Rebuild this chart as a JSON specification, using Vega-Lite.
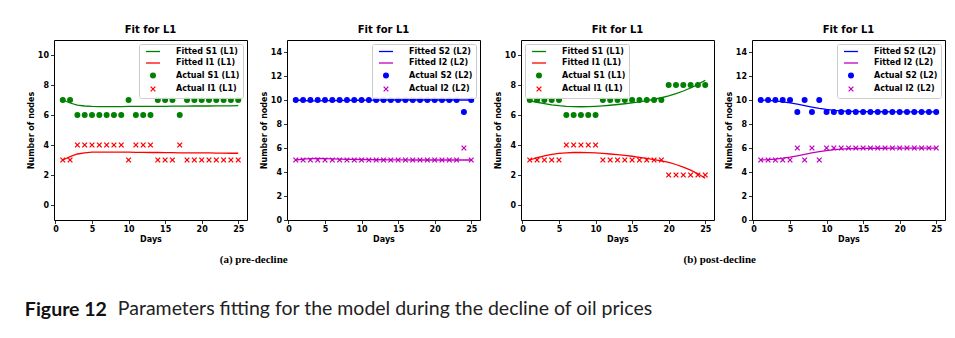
{
  "$schema": "https://vega.github.io/schema/vega-lite/v6.json",
  "padding": {"left": 24, "top": 24, "right": 2, "bottom": 5},
  "background": "white",
  "datasets": {
    "f1": [
      {"d":1,"v":7.0,"s":"Fitted S1 (L1)"},{"d":2,"v":6.8,"s":"Fitted S1 (L1)"},{"d":3,"v":6.66,"s":"Fitted S1 (L1)"},{"d":4,"v":6.6,"s":"Fitted S1 (L1)"},{"d":5,"v":6.57,"s":"Fitted S1 (L1)"},{"d":6,"v":6.56,"s":"Fitted S1 (L1)"},{"d":7,"v":6.56,"s":"Fitted S1 (L1)"},{"d":8,"v":6.56,"s":"Fitted S1 (L1)"},{"d":9,"v":6.56,"s":"Fitted S1 (L1)"},{"d":10,"v":6.57,"s":"Fitted S1 (L1)"},{"d":11,"v":6.57,"s":"Fitted S1 (L1)"},{"d":12,"v":6.57,"s":"Fitted S1 (L1)"},{"d":13,"v":6.58,"s":"Fitted S1 (L1)"},{"d":14,"v":6.58,"s":"Fitted S1 (L1)"},{"d":15,"v":6.58,"s":"Fitted S1 (L1)"},{"d":16,"v":6.59,"s":"Fitted S1 (L1)"},{"d":17,"v":6.59,"s":"Fitted S1 (L1)"},{"d":18,"v":6.59,"s":"Fitted S1 (L1)"},{"d":19,"v":6.6,"s":"Fitted S1 (L1)"},{"d":20,"v":6.6,"s":"Fitted S1 (L1)"},{"d":21,"v":6.6,"s":"Fitted S1 (L1)"},{"d":22,"v":6.61,"s":"Fitted S1 (L1)"},{"d":23,"v":6.61,"s":"Fitted S1 (L1)"},{"d":24,"v":6.61,"s":"Fitted S1 (L1)"},{"d":25,"v":6.62,"s":"Fitted S1 (L1)"},
      {"d":1,"v":3.0,"s":"Fitted I1 (L1)"},{"d":2,"v":3.22,"s":"Fitted I1 (L1)"},{"d":3,"v":3.4,"s":"Fitted I1 (L1)"},{"d":4,"v":3.48,"s":"Fitted I1 (L1)"},{"d":5,"v":3.52,"s":"Fitted I1 (L1)"},{"d":6,"v":3.53,"s":"Fitted I1 (L1)"},{"d":7,"v":3.53,"s":"Fitted I1 (L1)"},{"d":8,"v":3.53,"s":"Fitted I1 (L1)"},{"d":9,"v":3.52,"s":"Fitted I1 (L1)"},{"d":10,"v":3.52,"s":"Fitted I1 (L1)"},{"d":11,"v":3.51,"s":"Fitted I1 (L1)"},{"d":12,"v":3.51,"s":"Fitted I1 (L1)"},{"d":13,"v":3.5,"s":"Fitted I1 (L1)"},{"d":14,"v":3.5,"s":"Fitted I1 (L1)"},{"d":15,"v":3.49,"s":"Fitted I1 (L1)"},{"d":16,"v":3.49,"s":"Fitted I1 (L1)"},{"d":17,"v":3.48,"s":"Fitted I1 (L1)"},{"d":18,"v":3.48,"s":"Fitted I1 (L1)"},{"d":19,"v":3.47,"s":"Fitted I1 (L1)"},{"d":20,"v":3.47,"s":"Fitted I1 (L1)"},{"d":21,"v":3.47,"s":"Fitted I1 (L1)"},{"d":22,"v":3.46,"s":"Fitted I1 (L1)"},{"d":23,"v":3.46,"s":"Fitted I1 (L1)"},{"d":24,"v":3.45,"s":"Fitted I1 (L1)"},{"d":25,"v":3.45,"s":"Fitted I1 (L1)"}
    ],
    "a1": [
      {"d":1,"v":7,"s":"Actual S1 (L1)"},{"d":2,"v":7,"s":"Actual S1 (L1)"},{"d":3,"v":6,"s":"Actual S1 (L1)"},{"d":4,"v":6,"s":"Actual S1 (L1)"},{"d":5,"v":6,"s":"Actual S1 (L1)"},{"d":6,"v":6,"s":"Actual S1 (L1)"},{"d":7,"v":6,"s":"Actual S1 (L1)"},{"d":8,"v":6,"s":"Actual S1 (L1)"},{"d":9,"v":6,"s":"Actual S1 (L1)"},{"d":10,"v":7,"s":"Actual S1 (L1)"},{"d":11,"v":6,"s":"Actual S1 (L1)"},{"d":12,"v":6,"s":"Actual S1 (L1)"},{"d":13,"v":6,"s":"Actual S1 (L1)"},{"d":14,"v":7,"s":"Actual S1 (L1)"},{"d":15,"v":7,"s":"Actual S1 (L1)"},{"d":16,"v":7,"s":"Actual S1 (L1)"},{"d":17,"v":6,"s":"Actual S1 (L1)"},{"d":18,"v":7,"s":"Actual S1 (L1)"},{"d":19,"v":7,"s":"Actual S1 (L1)"},{"d":20,"v":7,"s":"Actual S1 (L1)"},{"d":21,"v":7,"s":"Actual S1 (L1)"},{"d":22,"v":7,"s":"Actual S1 (L1)"},{"d":23,"v":7,"s":"Actual S1 (L1)"},{"d":24,"v":7,"s":"Actual S1 (L1)"},{"d":25,"v":7,"s":"Actual S1 (L1)"},
      {"d":1,"v":3,"s":"Actual I1 (L1)"},{"d":2,"v":3,"s":"Actual I1 (L1)"},{"d":3,"v":4,"s":"Actual I1 (L1)"},{"d":4,"v":4,"s":"Actual I1 (L1)"},{"d":5,"v":4,"s":"Actual I1 (L1)"},{"d":6,"v":4,"s":"Actual I1 (L1)"},{"d":7,"v":4,"s":"Actual I1 (L1)"},{"d":8,"v":4,"s":"Actual I1 (L1)"},{"d":9,"v":4,"s":"Actual I1 (L1)"},{"d":10,"v":3,"s":"Actual I1 (L1)"},{"d":11,"v":4,"s":"Actual I1 (L1)"},{"d":12,"v":4,"s":"Actual I1 (L1)"},{"d":13,"v":4,"s":"Actual I1 (L1)"},{"d":14,"v":3,"s":"Actual I1 (L1)"},{"d":15,"v":3,"s":"Actual I1 (L1)"},{"d":16,"v":3,"s":"Actual I1 (L1)"},{"d":17,"v":4,"s":"Actual I1 (L1)"},{"d":18,"v":3,"s":"Actual I1 (L1)"},{"d":19,"v":3,"s":"Actual I1 (L1)"},{"d":20,"v":3,"s":"Actual I1 (L1)"},{"d":21,"v":3,"s":"Actual I1 (L1)"},{"d":22,"v":3,"s":"Actual I1 (L1)"},{"d":23,"v":3,"s":"Actual I1 (L1)"},{"d":24,"v":3,"s":"Actual I1 (L1)"},{"d":25,"v":3,"s":"Actual I1 (L1)"}
    ],
    "f2": [
      {"d":1,"v":10.0,"s":"Fitted S2 (L2)"},{"d":2,"v":9.96,"s":"Fitted S2 (L2)"},{"d":3,"v":9.93,"s":"Fitted S2 (L2)"},{"d":4,"v":9.93,"s":"Fitted S2 (L2)"},{"d":5,"v":9.94,"s":"Fitted S2 (L2)"},{"d":6,"v":9.95,"s":"Fitted S2 (L2)"},{"d":7,"v":9.96,"s":"Fitted S2 (L2)"},{"d":8,"v":9.97,"s":"Fitted S2 (L2)"},{"d":9,"v":9.98,"s":"Fitted S2 (L2)"},{"d":10,"v":9.98,"s":"Fitted S2 (L2)"},{"d":11,"v":9.99,"s":"Fitted S2 (L2)"},{"d":12,"v":9.99,"s":"Fitted S2 (L2)"},{"d":13,"v":9.99,"s":"Fitted S2 (L2)"},{"d":14,"v":10,"s":"Fitted S2 (L2)"},{"d":15,"v":10,"s":"Fitted S2 (L2)"},{"d":16,"v":10,"s":"Fitted S2 (L2)"},{"d":17,"v":10,"s":"Fitted S2 (L2)"},{"d":18,"v":10,"s":"Fitted S2 (L2)"},{"d":19,"v":10,"s":"Fitted S2 (L2)"},{"d":20,"v":10,"s":"Fitted S2 (L2)"},{"d":21,"v":10,"s":"Fitted S2 (L2)"},{"d":22,"v":10,"s":"Fitted S2 (L2)"},{"d":23,"v":10,"s":"Fitted S2 (L2)"},{"d":24,"v":10,"s":"Fitted S2 (L2)"},{"d":25,"v":10,"s":"Fitted S2 (L2)"},
      {"d":1,"v":5.0,"s":"Fitted I2 (L2)"},{"d":2,"v":5.08,"s":"Fitted I2 (L2)"},{"d":3,"v":5.12,"s":"Fitted I2 (L2)"},{"d":4,"v":5.13,"s":"Fitted I2 (L2)"},{"d":5,"v":5.12,"s":"Fitted I2 (L2)"},{"d":6,"v":5.1,"s":"Fitted I2 (L2)"},{"d":7,"v":5.08,"s":"Fitted I2 (L2)"},{"d":8,"v":5.06,"s":"Fitted I2 (L2)"},{"d":9,"v":5.05,"s":"Fitted I2 (L2)"},{"d":10,"v":5.04,"s":"Fitted I2 (L2)"},{"d":11,"v":5.03,"s":"Fitted I2 (L2)"},{"d":12,"v":5.02,"s":"Fitted I2 (L2)"},{"d":13,"v":5.02,"s":"Fitted I2 (L2)"},{"d":14,"v":5.01,"s":"Fitted I2 (L2)"},{"d":15,"v":5.01,"s":"Fitted I2 (L2)"},{"d":16,"v":5.01,"s":"Fitted I2 (L2)"},{"d":17,"v":5,"s":"Fitted I2 (L2)"},{"d":18,"v":5,"s":"Fitted I2 (L2)"},{"d":19,"v":5,"s":"Fitted I2 (L2)"},{"d":20,"v":5,"s":"Fitted I2 (L2)"},{"d":21,"v":5,"s":"Fitted I2 (L2)"},{"d":22,"v":5,"s":"Fitted I2 (L2)"},{"d":23,"v":5,"s":"Fitted I2 (L2)"},{"d":24,"v":5,"s":"Fitted I2 (L2)"},{"d":25,"v":5,"s":"Fitted I2 (L2)"}
    ],
    "a2": [
      {"d":1,"v":10,"s":"Actual S2 (L2)"},{"d":2,"v":10,"s":"Actual S2 (L2)"},{"d":3,"v":10,"s":"Actual S2 (L2)"},{"d":4,"v":10,"s":"Actual S2 (L2)"},{"d":5,"v":10,"s":"Actual S2 (L2)"},{"d":6,"v":10,"s":"Actual S2 (L2)"},{"d":7,"v":10,"s":"Actual S2 (L2)"},{"d":8,"v":10,"s":"Actual S2 (L2)"},{"d":9,"v":10,"s":"Actual S2 (L2)"},{"d":10,"v":10,"s":"Actual S2 (L2)"},{"d":11,"v":10,"s":"Actual S2 (L2)"},{"d":12,"v":10,"s":"Actual S2 (L2)"},{"d":13,"v":10,"s":"Actual S2 (L2)"},{"d":14,"v":10,"s":"Actual S2 (L2)"},{"d":15,"v":10,"s":"Actual S2 (L2)"},{"d":16,"v":10,"s":"Actual S2 (L2)"},{"d":17,"v":10,"s":"Actual S2 (L2)"},{"d":18,"v":10,"s":"Actual S2 (L2)"},{"d":19,"v":10,"s":"Actual S2 (L2)"},{"d":20,"v":10,"s":"Actual S2 (L2)"},{"d":21,"v":10,"s":"Actual S2 (L2)"},{"d":22,"v":10,"s":"Actual S2 (L2)"},{"d":23,"v":10,"s":"Actual S2 (L2)"},{"d":24,"v":9,"s":"Actual S2 (L2)"},{"d":25,"v":10,"s":"Actual S2 (L2)"},
      {"d":1,"v":5,"s":"Actual I2 (L2)"},{"d":2,"v":5,"s":"Actual I2 (L2)"},{"d":3,"v":5,"s":"Actual I2 (L2)"},{"d":4,"v":5,"s":"Actual I2 (L2)"},{"d":5,"v":5,"s":"Actual I2 (L2)"},{"d":6,"v":5,"s":"Actual I2 (L2)"},{"d":7,"v":5,"s":"Actual I2 (L2)"},{"d":8,"v":5,"s":"Actual I2 (L2)"},{"d":9,"v":5,"s":"Actual I2 (L2)"},{"d":10,"v":5,"s":"Actual I2 (L2)"},{"d":11,"v":5,"s":"Actual I2 (L2)"},{"d":12,"v":5,"s":"Actual I2 (L2)"},{"d":13,"v":5,"s":"Actual I2 (L2)"},{"d":14,"v":5,"s":"Actual I2 (L2)"},{"d":15,"v":5,"s":"Actual I2 (L2)"},{"d":16,"v":5,"s":"Actual I2 (L2)"},{"d":17,"v":5,"s":"Actual I2 (L2)"},{"d":18,"v":5,"s":"Actual I2 (L2)"},{"d":19,"v":5,"s":"Actual I2 (L2)"},{"d":20,"v":5,"s":"Actual I2 (L2)"},{"d":21,"v":5,"s":"Actual I2 (L2)"},{"d":22,"v":5,"s":"Actual I2 (L2)"},{"d":23,"v":5,"s":"Actual I2 (L2)"},{"d":24,"v":6,"s":"Actual I2 (L2)"},{"d":25,"v":5,"s":"Actual I2 (L2)"}
    ],
    "f3": [
      {"d":1,"v":6.95,"s":"Fitted S1 (L1)"},{"d":2,"v":6.85,"s":"Fitted S1 (L1)"},{"d":3,"v":6.76,"s":"Fitted S1 (L1)"},{"d":4,"v":6.68,"s":"Fitted S1 (L1)"},{"d":5,"v":6.62,"s":"Fitted S1 (L1)"},{"d":6,"v":6.58,"s":"Fitted S1 (L1)"},{"d":7,"v":6.56,"s":"Fitted S1 (L1)"},{"d":8,"v":6.55,"s":"Fitted S1 (L1)"},{"d":9,"v":6.56,"s":"Fitted S1 (L1)"},{"d":10,"v":6.58,"s":"Fitted S1 (L1)"},{"d":11,"v":6.61,"s":"Fitted S1 (L1)"},{"d":12,"v":6.65,"s":"Fitted S1 (L1)"},{"d":13,"v":6.7,"s":"Fitted S1 (L1)"},{"d":14,"v":6.75,"s":"Fitted S1 (L1)"},{"d":15,"v":6.81,"s":"Fitted S1 (L1)"},{"d":16,"v":6.88,"s":"Fitted S1 (L1)"},{"d":17,"v":6.96,"s":"Fitted S1 (L1)"},{"d":18,"v":7.05,"s":"Fitted S1 (L1)"},{"d":19,"v":7.15,"s":"Fitted S1 (L1)"},{"d":20,"v":7.27,"s":"Fitted S1 (L1)"},{"d":21,"v":7.42,"s":"Fitted S1 (L1)"},{"d":22,"v":7.6,"s":"Fitted S1 (L1)"},{"d":23,"v":7.8,"s":"Fitted S1 (L1)"},{"d":24,"v":8.04,"s":"Fitted S1 (L1)"},{"d":25,"v":8.32,"s":"Fitted S1 (L1)"},
      {"d":1,"v":3.0,"s":"Fitted I1 (L1)"},{"d":2,"v":3.15,"s":"Fitted I1 (L1)"},{"d":3,"v":3.27,"s":"Fitted I1 (L1)"},{"d":4,"v":3.37,"s":"Fitted I1 (L1)"},{"d":5,"v":3.44,"s":"Fitted I1 (L1)"},{"d":6,"v":3.48,"s":"Fitted I1 (L1)"},{"d":7,"v":3.5,"s":"Fitted I1 (L1)"},{"d":8,"v":3.5,"s":"Fitted I1 (L1)"},{"d":9,"v":3.49,"s":"Fitted I1 (L1)"},{"d":10,"v":3.47,"s":"Fitted I1 (L1)"},{"d":11,"v":3.44,"s":"Fitted I1 (L1)"},{"d":12,"v":3.4,"s":"Fitted I1 (L1)"},{"d":13,"v":3.36,"s":"Fitted I1 (L1)"},{"d":14,"v":3.31,"s":"Fitted I1 (L1)"},{"d":15,"v":3.25,"s":"Fitted I1 (L1)"},{"d":16,"v":3.18,"s":"Fitted I1 (L1)"},{"d":17,"v":3.11,"s":"Fitted I1 (L1)"},{"d":18,"v":3.03,"s":"Fitted I1 (L1)"},{"d":19,"v":2.94,"s":"Fitted I1 (L1)"},{"d":20,"v":2.84,"s":"Fitted I1 (L1)"},{"d":21,"v":2.7,"s":"Fitted I1 (L1)"},{"d":22,"v":2.53,"s":"Fitted I1 (L1)"},{"d":23,"v":2.33,"s":"Fitted I1 (L1)"},{"d":24,"v":2.08,"s":"Fitted I1 (L1)"},{"d":25,"v":1.78,"s":"Fitted I1 (L1)"}
    ],
    "a3": [
      {"d":1,"v":7,"s":"Actual S1 (L1)"},{"d":2,"v":7,"s":"Actual S1 (L1)"},{"d":3,"v":7,"s":"Actual S1 (L1)"},{"d":4,"v":7,"s":"Actual S1 (L1)"},{"d":5,"v":7,"s":"Actual S1 (L1)"},{"d":6,"v":6,"s":"Actual S1 (L1)"},{"d":7,"v":6,"s":"Actual S1 (L1)"},{"d":8,"v":6,"s":"Actual S1 (L1)"},{"d":9,"v":6,"s":"Actual S1 (L1)"},{"d":10,"v":6,"s":"Actual S1 (L1)"},{"d":11,"v":7,"s":"Actual S1 (L1)"},{"d":12,"v":7,"s":"Actual S1 (L1)"},{"d":13,"v":7,"s":"Actual S1 (L1)"},{"d":14,"v":7,"s":"Actual S1 (L1)"},{"d":15,"v":7,"s":"Actual S1 (L1)"},{"d":16,"v":7,"s":"Actual S1 (L1)"},{"d":17,"v":7,"s":"Actual S1 (L1)"},{"d":18,"v":7,"s":"Actual S1 (L1)"},{"d":19,"v":7,"s":"Actual S1 (L1)"},{"d":20,"v":8,"s":"Actual S1 (L1)"},{"d":21,"v":8,"s":"Actual S1 (L1)"},{"d":22,"v":8,"s":"Actual S1 (L1)"},{"d":23,"v":8,"s":"Actual S1 (L1)"},{"d":24,"v":8,"s":"Actual S1 (L1)"},{"d":25,"v":8,"s":"Actual S1 (L1)"},
      {"d":1,"v":3,"s":"Actual I1 (L1)"},{"d":2,"v":3,"s":"Actual I1 (L1)"},{"d":3,"v":3,"s":"Actual I1 (L1)"},{"d":4,"v":3,"s":"Actual I1 (L1)"},{"d":5,"v":3,"s":"Actual I1 (L1)"},{"d":6,"v":4,"s":"Actual I1 (L1)"},{"d":7,"v":4,"s":"Actual I1 (L1)"},{"d":8,"v":4,"s":"Actual I1 (L1)"},{"d":9,"v":4,"s":"Actual I1 (L1)"},{"d":10,"v":4,"s":"Actual I1 (L1)"},{"d":11,"v":3,"s":"Actual I1 (L1)"},{"d":12,"v":3,"s":"Actual I1 (L1)"},{"d":13,"v":3,"s":"Actual I1 (L1)"},{"d":14,"v":3,"s":"Actual I1 (L1)"},{"d":15,"v":3,"s":"Actual I1 (L1)"},{"d":16,"v":3,"s":"Actual I1 (L1)"},{"d":17,"v":3,"s":"Actual I1 (L1)"},{"d":18,"v":3,"s":"Actual I1 (L1)"},{"d":19,"v":3,"s":"Actual I1 (L1)"},{"d":20,"v":2,"s":"Actual I1 (L1)"},{"d":21,"v":2,"s":"Actual I1 (L1)"},{"d":22,"v":2,"s":"Actual I1 (L1)"},{"d":23,"v":2,"s":"Actual I1 (L1)"},{"d":24,"v":2,"s":"Actual I1 (L1)"},{"d":25,"v":2,"s":"Actual I1 (L1)"}
    ],
    "f4": [
      {"d":1,"v":10.0,"s":"Fitted S2 (L2)"},{"d":2,"v":9.97,"s":"Fitted S2 (L2)"},{"d":3,"v":9.92,"s":"Fitted S2 (L2)"},{"d":4,"v":9.85,"s":"Fitted S2 (L2)"},{"d":5,"v":9.76,"s":"Fitted S2 (L2)"},{"d":6,"v":9.65,"s":"Fitted S2 (L2)"},{"d":7,"v":9.53,"s":"Fitted S2 (L2)"},{"d":8,"v":9.41,"s":"Fitted S2 (L2)"},{"d":9,"v":9.3,"s":"Fitted S2 (L2)"},{"d":10,"v":9.21,"s":"Fitted S2 (L2)"},{"d":11,"v":9.14,"s":"Fitted S2 (L2)"},{"d":12,"v":9.09,"s":"Fitted S2 (L2)"},{"d":13,"v":9.06,"s":"Fitted S2 (L2)"},{"d":14,"v":9.04,"s":"Fitted S2 (L2)"},{"d":15,"v":9.03,"s":"Fitted S2 (L2)"},{"d":16,"v":9.02,"s":"Fitted S2 (L2)"},{"d":17,"v":9.02,"s":"Fitted S2 (L2)"},{"d":18,"v":9.02,"s":"Fitted S2 (L2)"},{"d":19,"v":9.01,"s":"Fitted S2 (L2)"},{"d":20,"v":9.01,"s":"Fitted S2 (L2)"},{"d":21,"v":9.01,"s":"Fitted S2 (L2)"},{"d":22,"v":9.01,"s":"Fitted S2 (L2)"},{"d":23,"v":9.01,"s":"Fitted S2 (L2)"},{"d":24,"v":9.01,"s":"Fitted S2 (L2)"},{"d":25,"v":9.01,"s":"Fitted S2 (L2)"},
      {"d":1,"v":5.0,"s":"Fitted I2 (L2)"},{"d":2,"v":5.03,"s":"Fitted I2 (L2)"},{"d":3,"v":5.08,"s":"Fitted I2 (L2)"},{"d":4,"v":5.15,"s":"Fitted I2 (L2)"},{"d":5,"v":5.24,"s":"Fitted I2 (L2)"},{"d":6,"v":5.35,"s":"Fitted I2 (L2)"},{"d":7,"v":5.47,"s":"Fitted I2 (L2)"},{"d":8,"v":5.59,"s":"Fitted I2 (L2)"},{"d":9,"v":5.7,"s":"Fitted I2 (L2)"},{"d":10,"v":5.79,"s":"Fitted I2 (L2)"},{"d":11,"v":5.86,"s":"Fitted I2 (L2)"},{"d":12,"v":5.91,"s":"Fitted I2 (L2)"},{"d":13,"v":5.94,"s":"Fitted I2 (L2)"},{"d":14,"v":5.96,"s":"Fitted I2 (L2)"},{"d":15,"v":5.97,"s":"Fitted I2 (L2)"},{"d":16,"v":5.98,"s":"Fitted I2 (L2)"},{"d":17,"v":5.98,"s":"Fitted I2 (L2)"},{"d":18,"v":5.98,"s":"Fitted I2 (L2)"},{"d":19,"v":5.99,"s":"Fitted I2 (L2)"},{"d":20,"v":5.99,"s":"Fitted I2 (L2)"},{"d":21,"v":5.99,"s":"Fitted I2 (L2)"},{"d":22,"v":5.99,"s":"Fitted I2 (L2)"},{"d":23,"v":5.99,"s":"Fitted I2 (L2)"},{"d":24,"v":5.99,"s":"Fitted I2 (L2)"},{"d":25,"v":5.99,"s":"Fitted I2 (L2)"}
    ],
    "a4": [
      {"d":1,"v":10,"s":"Actual S2 (L2)"},{"d":2,"v":10,"s":"Actual S2 (L2)"},{"d":3,"v":10,"s":"Actual S2 (L2)"},{"d":4,"v":10,"s":"Actual S2 (L2)"},{"d":5,"v":10,"s":"Actual S2 (L2)"},{"d":6,"v":9,"s":"Actual S2 (L2)"},{"d":7,"v":10,"s":"Actual S2 (L2)"},{"d":8,"v":9,"s":"Actual S2 (L2)"},{"d":9,"v":10,"s":"Actual S2 (L2)"},{"d":10,"v":9,"s":"Actual S2 (L2)"},{"d":11,"v":9,"s":"Actual S2 (L2)"},{"d":12,"v":9,"s":"Actual S2 (L2)"},{"d":13,"v":9,"s":"Actual S2 (L2)"},{"d":14,"v":9,"s":"Actual S2 (L2)"},{"d":15,"v":9,"s":"Actual S2 (L2)"},{"d":16,"v":9,"s":"Actual S2 (L2)"},{"d":17,"v":9,"s":"Actual S2 (L2)"},{"d":18,"v":9,"s":"Actual S2 (L2)"},{"d":19,"v":9,"s":"Actual S2 (L2)"},{"d":20,"v":9,"s":"Actual S2 (L2)"},{"d":21,"v":9,"s":"Actual S2 (L2)"},{"d":22,"v":9,"s":"Actual S2 (L2)"},{"d":23,"v":9,"s":"Actual S2 (L2)"},{"d":24,"v":9,"s":"Actual S2 (L2)"},{"d":25,"v":9,"s":"Actual S2 (L2)"},
      {"d":1,"v":5,"s":"Actual I2 (L2)"},{"d":2,"v":5,"s":"Actual I2 (L2)"},{"d":3,"v":5,"s":"Actual I2 (L2)"},{"d":4,"v":5,"s":"Actual I2 (L2)"},{"d":5,"v":5,"s":"Actual I2 (L2)"},{"d":6,"v":6,"s":"Actual I2 (L2)"},{"d":7,"v":5,"s":"Actual I2 (L2)"},{"d":8,"v":6,"s":"Actual I2 (L2)"},{"d":9,"v":5,"s":"Actual I2 (L2)"},{"d":10,"v":6,"s":"Actual I2 (L2)"},{"d":11,"v":6,"s":"Actual I2 (L2)"},{"d":12,"v":6,"s":"Actual I2 (L2)"},{"d":13,"v":6,"s":"Actual I2 (L2)"},{"d":14,"v":6,"s":"Actual I2 (L2)"},{"d":15,"v":6,"s":"Actual I2 (L2)"},{"d":16,"v":6,"s":"Actual I2 (L2)"},{"d":17,"v":6,"s":"Actual I2 (L2)"},{"d":18,"v":6,"s":"Actual I2 (L2)"},{"d":19,"v":6,"s":"Actual I2 (L2)"},{"d":20,"v":6,"s":"Actual I2 (L2)"},{"d":21,"v":6,"s":"Actual I2 (L2)"},{"d":22,"v":6,"s":"Actual I2 (L2)"},{"d":23,"v":6,"s":"Actual I2 (L2)"},{"d":24,"v":6,"s":"Actual I2 (L2)"},{"d":25,"v":6,"s":"Actual I2 (L2)"}
    ]
  },
  "title": {
    "text": "Parameters fitting for the model during the decline of oil prices",
    "orient": "bottom", "anchor": "start", "offset": -19.5, "dx": 93,
    "font": "Lato", "fontSize": 19.5, "fontWeight": "normal", "color": "#222222"
  },
  "vconcat": [
    {
      "title": {
        "text": "Figure 12",
        "orient": "bottom", "anchor": "start", "offset": 36, "dx": -2,
        "font": "Lato", "fontSize": 19.5, "fontWeight": "bold", "color": "#111111"
      },
      "spacing": 12,
      "resolve": {
        "scale": {"color": "independent", "stroke": "independent", "fill": "independent", "shape": "independent"},
        "legend": {"color": "independent", "stroke": "independent", "fill": "independent", "shape": "independent"}
      },
      "hconcat": [
        {
          "title": {"text": "(a) pre-decline", "orient": "bottom", "anchor": "middle", "font": "Liberation Serif", "fontSize": 11, "fontWeight": "bold", "offset": 10, "color": "black"},
          "spacing": 11,
          "resolve": {
            "scale": {"color": "independent", "stroke": "independent", "fill": "independent", "shape": "independent"},
            "legend": {"color": "independent", "stroke": "independent", "fill": "independent", "shape": "independent"}
          },
          "hconcat": [
            {
              "width": 193, "height": 180,
              "title": {"text": "Fit for L1"},
              "encoding": {
                "x": {"field": "d", "type": "quantitative", "scale": {"domain": [-0.2, 26.2], "nice": false, "zero": false}, "axis": {"values": [0, 5, 10, 15, 20, 25], "title": "Days", "labelOverlap": false}},
                "y": {"field": "v", "type": "quantitative", "scale": {"domain": [-1, 11], "nice": false, "zero": false}, "axis": {"values": [0, 2, 4, 6, 8, 10], "title": "Number of nodes", "labelOverlap": false}}
              },
              "layer": [
                {
                  "data": {"name": "f1"},
                  "mark": {"type": "line", "strokeWidth": 1.3},
                  "encoding": {
                    "color": {"field": "s", "type": "nominal", "scale": {"domain": ["Fitted S1 (L1)", "Fitted I1 (L1)"], "range": ["#008000", "#ff0000"]}, "legend": null}
                  }
                },
                {
                  "data": {"name": "a1"},
                  "mark": {"type": "point", "filled": true, "opacity": 1, "size": 22, "strokeWidth": 1.3},
                  "encoding": {
                    "stroke": {"field": "s", "type": "nominal", "scale": {"domain": ["Fitted S1 (L1)", "Fitted I1 (L1)", "Actual S1 (L1)", "Actual I1 (L1)"], "range": ["#008000", "#ff0000", "#008000", "#ff0000"]}, "legend": {"orient": "top-right", "title": null}},
                    "fill": {"field": "s", "type": "nominal", "scale": {"domain": ["Fitted S1 (L1)", "Fitted I1 (L1)", "Actual S1 (L1)", "Actual I1 (L1)"], "range": ["#008000", "#ff0000", "#008000", "#ff0000"]}, "legend": {"orient": "top-right", "title": null}},
                    "shape": {"field": "s", "type": "nominal", "scale": {"domain": ["Fitted S1 (L1)", "Fitted I1 (L1)", "Actual S1 (L1)", "Actual I1 (L1)"], "range": ["M-3,0L3,0", "M-3,0L3,0", "circle", "M-1,-1L1,1M1,-1L-1,1"]}, "legend": {"orient": "top-right", "title": null}}
                  }
                }
              ]
            },
            {
              "width": 193, "height": 180,
              "title": {"text": "Fit for L1"},
              "encoding": {
                "x": {"field": "d", "type": "quantitative", "scale": {"domain": [-0.2, 26.2], "nice": false, "zero": false}, "axis": {"values": [0, 5, 10, 15, 20, 25], "title": "Days", "labelOverlap": false}},
                "y": {"field": "v", "type": "quantitative", "scale": {"domain": [0, 15], "nice": false, "zero": false}, "axis": {"values": [0, 2, 4, 6, 8, 10, 12, 14], "title": "Number of nodes", "labelOverlap": false}}
              },
              "layer": [
                {
                  "data": {"name": "f2"},
                  "mark": {"type": "line", "strokeWidth": 1.3},
                  "encoding": {
                    "color": {"field": "s", "type": "nominal", "scale": {"domain": ["Fitted S2 (L2)", "Fitted I2 (L2)"], "range": ["#0000ff", "#c000c0"]}, "legend": null}
                  }
                },
                {
                  "data": {"name": "a2"},
                  "mark": {"type": "point", "filled": true, "opacity": 1, "size": 22, "strokeWidth": 1.3},
                  "encoding": {
                    "stroke": {"field": "s", "type": "nominal", "scale": {"domain": ["Fitted S2 (L2)", "Fitted I2 (L2)", "Actual S2 (L2)", "Actual I2 (L2)"], "range": ["#0000ff", "#c000c0", "#0000ff", "#c000c0"]}, "legend": {"orient": "top-right", "title": null}},
                    "fill": {"field": "s", "type": "nominal", "scale": {"domain": ["Fitted S2 (L2)", "Fitted I2 (L2)", "Actual S2 (L2)", "Actual I2 (L2)"], "range": ["#0000ff", "#c000c0", "#0000ff", "#c000c0"]}, "legend": {"orient": "top-right", "title": null}},
                    "shape": {"field": "s", "type": "nominal", "scale": {"domain": ["Fitted S2 (L2)", "Fitted I2 (L2)", "Actual S2 (L2)", "Actual I2 (L2)"], "range": ["M-3,0L3,0", "M-3,0L3,0", "circle", "M-1,-1L1,1M1,-1L-1,1"]}, "legend": {"orient": "top-right", "title": null}}
                  }
                }
              ]
            }
          ]
        },
        {
          "title": {"text": "(b) post-decline", "orient": "bottom", "anchor": "middle", "font": "Liberation Serif", "fontSize": 11, "fontWeight": "bold", "offset": 10, "color": "black"},
          "spacing": 9,
          "resolve": {
            "scale": {"color": "independent", "stroke": "independent", "fill": "independent", "shape": "independent"},
            "legend": {"color": "independent", "stroke": "independent", "fill": "independent", "shape": "independent"}
          },
          "hconcat": [
            {
              "width": 193, "height": 180,
              "title": {"text": "Fit for L1"},
              "encoding": {
                "x": {"field": "d", "type": "quantitative", "scale": {"domain": [-0.2, 26.2], "nice": false, "zero": false}, "axis": {"values": [0, 5, 10, 15, 20, 25], "title": "Days", "labelOverlap": false}},
                "y": {"field": "v", "type": "quantitative", "scale": {"domain": [-1, 11], "nice": false, "zero": false}, "axis": {"values": [0, 2, 4, 6, 8, 10], "title": "Number of nodes", "labelOverlap": false}}
              },
              "layer": [
                {
                  "data": {"name": "f3"},
                  "mark": {"type": "line", "strokeWidth": 1.3},
                  "encoding": {
                    "color": {"field": "s", "type": "nominal", "scale": {"domain": ["Fitted S1 (L1)", "Fitted I1 (L1)"], "range": ["#008000", "#ff0000"]}, "legend": null}
                  }
                },
                {
                  "data": {"name": "a3"},
                  "mark": {"type": "point", "filled": true, "opacity": 1, "size": 22, "strokeWidth": 1.3},
                  "encoding": {
                    "stroke": {"field": "s", "type": "nominal", "scale": {"domain": ["Fitted S1 (L1)", "Fitted I1 (L1)", "Actual S1 (L1)", "Actual I1 (L1)"], "range": ["#008000", "#ff0000", "#008000", "#ff0000"]}, "legend": {"orient": "top-left", "title": null}},
                    "fill": {"field": "s", "type": "nominal", "scale": {"domain": ["Fitted S1 (L1)", "Fitted I1 (L1)", "Actual S1 (L1)", "Actual I1 (L1)"], "range": ["#008000", "#ff0000", "#008000", "#ff0000"]}, "legend": {"orient": "top-left", "title": null}},
                    "shape": {"field": "s", "type": "nominal", "scale": {"domain": ["Fitted S1 (L1)", "Fitted I1 (L1)", "Actual S1 (L1)", "Actual I1 (L1)"], "range": ["M-3,0L3,0", "M-3,0L3,0", "circle", "M-1,-1L1,1M1,-1L-1,1"]}, "legend": {"orient": "top-left", "title": null}}
                  }
                }
              ]
            },
            {
              "width": 193, "height": 180,
              "title": {"text": "Fit for L1"},
              "encoding": {
                "x": {"field": "d", "type": "quantitative", "scale": {"domain": [-0.2, 26.2], "nice": false, "zero": false}, "axis": {"values": [0, 5, 10, 15, 20, 25], "title": "Days", "labelOverlap": false}},
                "y": {"field": "v", "type": "quantitative", "scale": {"domain": [0, 15], "nice": false, "zero": false}, "axis": {"values": [0, 2, 4, 6, 8, 10, 12, 14], "title": "Number of nodes", "labelOverlap": false}}
              },
              "layer": [
                {
                  "data": {"name": "f4"},
                  "mark": {"type": "line", "strokeWidth": 1.3},
                  "encoding": {
                    "color": {"field": "s", "type": "nominal", "scale": {"domain": ["Fitted S2 (L2)", "Fitted I2 (L2)"], "range": ["#0000ff", "#c000c0"]}, "legend": null}
                  }
                },
                {
                  "data": {"name": "a4"},
                  "mark": {"type": "point", "filled": true, "opacity": 1, "size": 22, "strokeWidth": 1.3},
                  "encoding": {
                    "stroke": {"field": "s", "type": "nominal", "scale": {"domain": ["Fitted S2 (L2)", "Fitted I2 (L2)", "Actual S2 (L2)", "Actual I2 (L2)"], "range": ["#0000ff", "#c000c0", "#0000ff", "#c000c0"]}, "legend": {"orient": "top-right", "title": null}},
                    "fill": {"field": "s", "type": "nominal", "scale": {"domain": ["Fitted S2 (L2)", "Fitted I2 (L2)", "Actual S2 (L2)", "Actual I2 (L2)"], "range": ["#0000ff", "#c000c0", "#0000ff", "#c000c0"]}, "legend": {"orient": "top-right", "title": null}},
                    "shape": {"field": "s", "type": "nominal", "scale": {"domain": ["Fitted S2 (L2)", "Fitted I2 (L2)", "Actual S2 (L2)", "Actual I2 (L2)"], "range": ["M-3,0L3,0", "M-3,0L3,0", "circle", "M-1,-1L1,1M1,-1L-1,1"]}, "legend": {"orient": "top-right", "title": null}}
                  }
                }
              ]
            }
          ]
        }
      ]
    }
  ],
  "config": {
    "font": "DejaVu Sans",
    "view": {"stroke": "black", "strokeWidth": 1},
    "axis": {
      "domain": false, "grid": false,
      "tickColor": "black", "tickSize": 3.5, "tickWidth": 0.8,
      "labelFont": "DejaVu Sans", "labelFontSize": 8, "labelFontWeight": "bold", "labelColor": "black", "labelPadding": 2,
      "titleFont": "DejaVu Sans", "titleFontSize": 8, "titleFontWeight": "bold", "titleColor": "black", "titlePadding": 2
    },
    "legend": {
      "offset": 4,
      "strokeColor": "#cccccc",
      "fillColor": "rgba(255,255,255,0.9)",
      "cornerRadius": 2,
      "padding": 3.5,
      "rowPadding": 3.5,
      "symbolSize": 22,
      "symbolOffset": 6.5,
      "labelOffset": 19,
      "symbolStrokeWidth": 1.3,
      "labelFont": "DejaVu Sans", "labelFontSize": 8, "labelFontWeight": "bold", "labelColor": "black"
    },
    "title": {"font": "DejaVu Sans", "fontSize": 10, "fontWeight": "bold", "color": "black", "offset": 5}
  }
}
